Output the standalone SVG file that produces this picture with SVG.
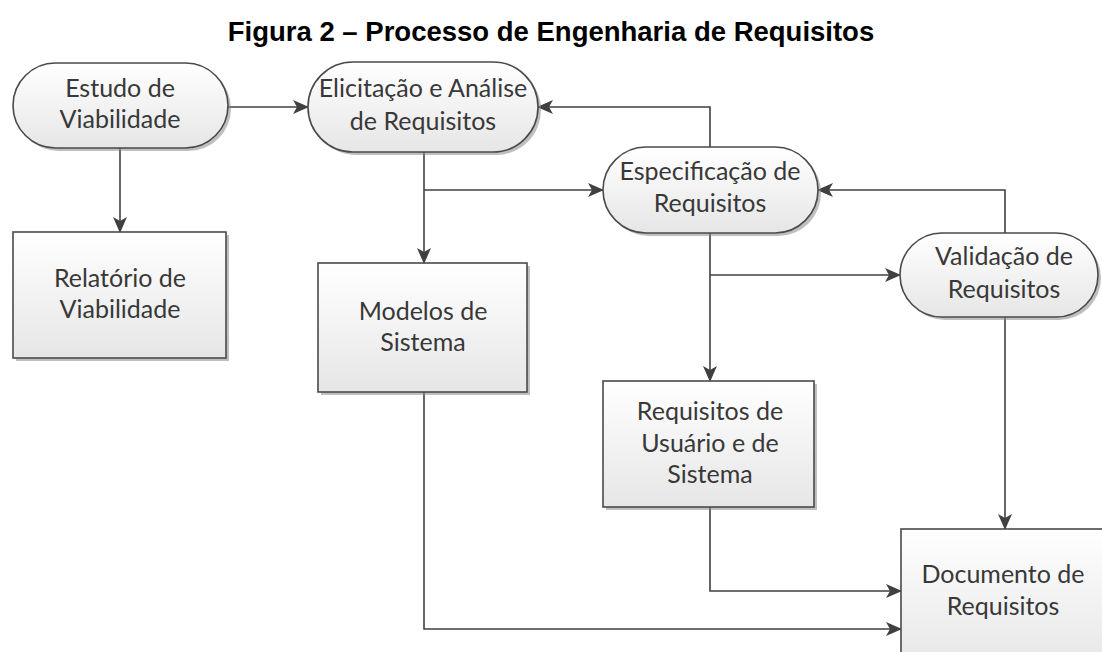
<svg xmlns="http://www.w3.org/2000/svg" width="1102" height="652" viewBox="0 0 1102 652">
<defs>
<linearGradient id="g" x1="0" y1="0" x2="0" y2="1">
<stop offset="0" stop-color="#ffffff"/>
<stop offset="1" stop-color="#e6e6e6"/>
</linearGradient>
<marker id="a" markerWidth="16" markerHeight="14" refX="15" refY="7" orient="auto" markerUnits="userSpaceOnUse">
<path d="M0,0 L16,7 L0,14 L4,7 Z" fill="#404040"/>
</marker>
</defs>
<style>
.s{fill:url(#g);stroke:#4a4a4a;stroke-width:1.6}
.sh{fill:#8a8a8a;opacity:0.55}
.t{font-family:Lato,"Open Sans",sans-serif;font-size:25px;fill:#383838;text-anchor:middle}
.c{fill:none;stroke:#404040;stroke-width:1.6;marker-end:url(#a)}
.ttl{font-family:"Liberation Sans",Arial,sans-serif;font-size:27.5px;font-weight:bold;fill:#000;text-anchor:middle}
</style>
<rect width="1102" height="652" fill="#ffffff"/>
<text class="ttl" x="551" y="41">Figura 2 – Processo de Engenharia de Requisitos</text>

<g id="connectors">
<path class="c" d="M228,107 H308"/>
<path class="c" d="M120,148 V232"/>
<path class="c" d="M710,147 V107 H538"/>
<path class="c" d="M424,152 V263"/>
<path class="c" d="M424,190 H603"/>
<path class="c" d="M1005,233 V190 H818"/>
<path class="c" d="M710,233 V381"/>
<path class="c" d="M710,275 H900"/>
<path class="c" d="M1005,317 V529"/>
<path class="c" d="M710,507 V591 H901"/>
<path class="c" d="M424,392 V629 H901"/>
</g>

<g id="estudo">
<rect class="sh" x="16" y="66" width="215" height="85" rx="42.5"/>
<rect class="s" x="13" y="63" width="215" height="85" rx="42.5"/>
<text class="t" x="120" y="97">Estudo de</text>
<text class="t" x="120" y="128">Viabilidade</text>
</g>

<g id="elicitacao">
<rect class="sh" x="311" y="65" width="230" height="90" rx="45"/>
<rect class="s" x="308" y="62" width="230" height="90" rx="45"/>
<text class="t" x="423" y="97">Elicitação e Análise</text>
<text class="t" x="423" y="130">de Requisitos</text>
</g>

<g id="especificacao">
<rect class="sh" x="606" y="150" width="215" height="86" rx="43"/>
<rect class="s" x="603" y="147" width="215" height="86" rx="43"/>
<text class="t" x="710" y="180">Especificação de</text>
<text class="t" x="710" y="212">Requisitos</text>
</g>

<g id="validacao">
<rect class="sh" x="903" y="236" width="198" height="84" rx="42"/>
<rect class="s" x="900" y="233" width="198" height="84" rx="42"/>
<text class="t" x="1004" y="265">Validação de</text>
<text class="t" x="1004" y="298">Requisitos</text>
</g>

<g id="relatorio">
<rect class="sh" x="16" y="235" width="213" height="126"/>
<rect class="s" x="13" y="232" width="213" height="126"/>
<text class="t" x="120" y="287">Relatório de</text>
<text class="t" x="120" y="318">Viabilidade</text>
</g>

<g id="modelos">
<rect class="sh" x="321" y="266" width="209" height="129"/>
<rect class="s" x="318" y="263" width="209" height="129"/>
<text class="t" x="423" y="320">Modelos de</text>
<text class="t" x="423" y="351">Sistema</text>
</g>

<g id="requisitos">
<rect class="sh" x="606" y="384" width="211" height="126"/>
<rect class="s" x="603" y="381" width="211" height="126"/>
<text class="t" x="710" y="420">Requisitos de</text>
<text class="t" x="710" y="452">Usuário e de</text>
<text class="t" x="710" y="483">Sistema</text>
</g>

<g id="documento">
<rect class="s" x="901" y="529" width="205" height="140"/>
<text class="t" x="1003" y="583">Documento de</text>
<text class="t" x="1003" y="615">Requisitos</text>
</g>
</svg>
